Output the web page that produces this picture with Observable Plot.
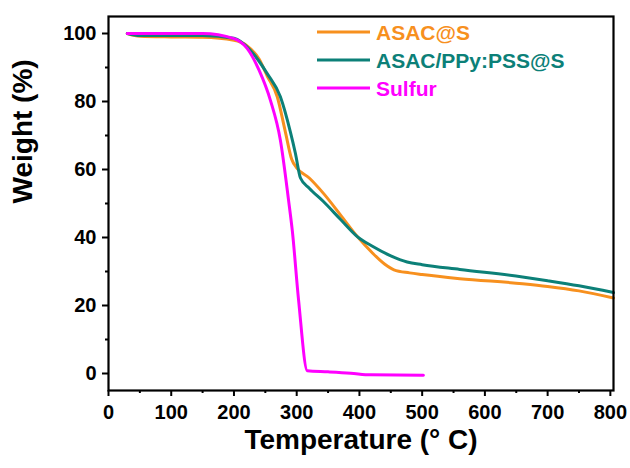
<!DOCTYPE html>
<html>
<head>
<meta charset="utf-8">
<script src="https://cdn.jsdelivr.net/npm/d3@7"></script>
<script src="https://cdn.jsdelivr.net/npm/@observablehq/plot@0.6"></script>
<style>
  html, body { margin: 0; padding: 0; background: #ffffff; }
  #chart { width: 630px; height: 468px; }
  #chart svg { display: block; }
</style>
</head>
<body>
<div id="chart"></div>
<script>
// ---- data ----
const seriesNames = ["ASAC@S", "ASAC/PPy:PSS@S", "Sulfur"];
const seriesColors = ["#f7901e", "#0c8078", "#ff00ff"];

const asacT = [30, 50, 100, 150, 200, 220, 240, 253, 269, 282, 292, 300, 320, 343, 370, 397, 420, 440, 455, 480, 500, 560, 660, 700, 750, 805];
const asacW = [100, 99.2, 99.0, 98.9, 98.0, 96.5, 92.5, 87.5, 81.4, 71, 63, 60.5, 57.5, 52.9, 46.6, 40.2, 35.6, 32.2, 30.5, 29.6, 29.1, 27.9, 26.4, 25.6, 24.3, 22.2];

const pssT = [30, 50, 100, 150, 200, 226, 253, 274, 290, 298, 306, 320, 343, 370, 397, 420, 450, 476, 500, 560, 660, 700, 750, 805];
const pssW = [100, 99.4, 99.4, 99.4, 98.6, 95.1, 88.2, 81.4, 71, 64.7, 57.5, 54.5, 50.5, 45.3, 40.2, 37.5, 34.6, 32.8, 32.0, 30.6, 28.4, 27.3, 25.8, 23.8];

const sulfurT = [30, 100, 150, 200, 221, 240, 258, 274, 287, 293, 303, 317, 350, 386, 418, 502];
const sulfurW = [100, 100, 100, 98.5, 95.6, 89.2, 80.4, 68.6, 51, 42, 21.6, 0.8, 0.5, 0.1, -0.4, -0.5];

const xMajor = [0, 100, 200, 300, 400, 500, 600, 700, 800];
const xMinor = [50, 150, 250, 350, 450, 550, 650, 750];
const yMajor = [0, 20, 40, 60, 80, 100];
const yMinor = [10, 30, 50, 70, 90];
const xDomain = [0, 805];
const yDomain = [-5, 105];

const xLabel = "Temperature (\u00B0 C)";
const yLabel = "Weight (%)";

// ---- build table ----
const rows = [];
[[asacT, asacW], [pssT, pssW], [sulfurT, sulfurW]].forEach(([T, W], i) => {
  T.forEach((t, j) => rows.push({series: seriesNames[i], T: t, W: W[j]}));
});

const FONT = "'Liberation Sans', Arial, Helvetica, sans-serif";

function legend(index, scales, values, dims) {
  const g = d3.create("svg:g");
  const x0 = dims.width - dims.marginRight - 296;
  seriesNames.forEach((name, i) => {
    const y = dims.marginTop + 16 + i * 28;
    g.append("line")
      .attr("x1", x0).attr("x2", x0 + 53)
      .attr("y1", y).attr("y2", y)
      .attr("stroke", seriesColors[i]).attr("stroke-width", 3);
    g.append("text")
      .attr("x", x0 + 59).attr("y", y)
      .attr("dy", "0.36em")
      .attr("text-anchor", "start")
      .attr("fill", seriesColors[i])
      .attr("font-family", FONT)
      .attr("font-weight", "bold")
      .attr("font-size", 21)
      .text(name);
  });
  return g.node();
}

const chart = Plot.plot({
  width: 630,
  height: 468,
  marginLeft: 108,
  marginRight: 17,
  marginTop: 16,
  marginBottom: 78,
  style: {fontFamily: FONT, background: "#ffffff", color: "#000"},
  x: {domain: xDomain},
  y: {domain: yDomain},
  color: {domain: seriesNames, range: seriesColors},
  marks: [
    Plot.line(rows, {x: "T", y: "W", z: "series", stroke: "series", strokeWidth: 3, curve: "monotone-x"}),
    Plot.frame({stroke: "#000", strokeWidth: 2.2, fill: "none"}),
    Plot.axisX({ticks: xMajor, tickSize: 6, tickPadding: 8, strokeWidth: 2, fontSize: 20, fontWeight: "bold", label: null, tickFormat: d => String(d)}),
    Plot.axisX({ticks: xMinor, tickSize: 3, strokeWidth: 2, tickFormat: () => "", label: null}),
    Plot.axisY({ticks: yMajor, tickSize: 6, tickPadding: 6, strokeWidth: 2, fontSize: 20, fontWeight: "bold", label: null, tickFormat: d => String(d)}),
    Plot.axisY({ticks: yMinor, tickSize: 3, strokeWidth: 2, tickFormat: () => "", label: null}),
    Plot.text([xLabel], {frameAnchor: "bottom", text: d => d, dy: 58, fontSize: 28, fontWeight: "bold", fill: "#000"}),
    Plot.text([yLabel], {frameAnchor: "left", text: d => d, rotate: -90, dx: -85, fontSize: 28, fontWeight: "bold", fill: "#000"}),
    legend
  ]
});
document.getElementById("chart").appendChild(chart);
</script>
</body>
</html>
